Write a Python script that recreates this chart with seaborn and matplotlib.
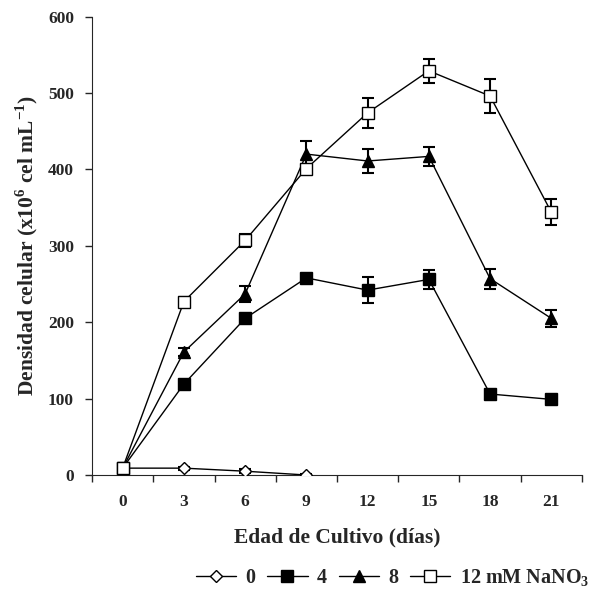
import pandas as pd
import numpy as np
import matplotlib
matplotlib.use("Agg")
import matplotlib.pyplot as plt
import seaborn as sns

# Datos
dias = ["0", "3", "6", "9", "12", "15", "18", "21"]
trat_0 = [9, 9, 5, 0]
trat_4 = [9, 119, 205, 258, 242, 256, 106, 99]
trat_8 = [9, 161, 237, 420, 411, 417, 257, 205]
trat_12 = [9, 227, 307, 401, 474, 529, 496, 344]
err_0 = [2, 2, 3, 1]
err_4 = [3, 4, 5, 5, 17, 12, 4, 4]
err_8 = [3, 5, 10, 17, 16, 12, 13, 11]
err_12 = [3, 6, 8, 6, 20, 16, 22, 17]
etiquetas = ["0", "4", "8", "12 mM NaNO$_\\mathbf{3}$"]

series = [trat_0, trat_4, trat_8, trat_12]
errores = [err_0, err_4, err_8, err_12]

filas = []
for etq, vals, errs in zip(etiquetas, series, errores):
    for i, (v, e) in enumerate(zip(vals, errs)):
        filas.append({"pos": i, "dens": v, "err": e, "trat": etq})
df = pd.DataFrame(filas)

sns.set_style("ticks")
plt.rcParams['font.family'] = ['Liberation Serif', 'DejaVu Serif']
plt.rcParams['mathtext.fontset'] = 'custom'
plt.rcParams['mathtext.rm'] = 'Liberation Serif'
plt.rcParams['mathtext.bf'] = 'Liberation Serif:bold'

fig = plt.figure(figsize=(5.91, 5.92), dpi=100)
ax = fig.add_axes([0.1557, 0.1976, 0.829, 0.7744])

marcadores = {etiquetas[0]: "D", etiquetas[1]: "s", etiquetas[2]: "^", etiquetas[3]: "s"}
relleno = {etiquetas[0]: "white", etiquetas[1]: "black", etiquetas[2]: "black", etiquetas[3]: "white"}
tamanos = {etiquetas[0]: 6.5, etiquetas[1]: 9, etiquetas[2]: 9, etiquetas[3]: 9}

# barras de error primero
for etq in etiquetas:
    d = df[df["trat"] == etq]
    ax.errorbar(d["pos"], d["dens"], yerr=d["err"], fmt="none", ecolor="black",
                elinewidth=1.5, capsize=4, capthick=1.5, zorder=2)

for etq in etiquetas:
    d = df[df["trat"] == etq]
    sns.lineplot(x="pos", y="dens", data=d, ax=ax, color="black", linewidth=1,
                 marker=marcadores[etq], markersize=tamanos[etq],
                 markerfacecolor=relleno[etq], markeredgecolor="black",
                 markeredgewidth=1, label=etq, zorder=3)

ax.set_xlim(-0.5, 7.5)
ax.set_ylim(0, 600)
ax.set_yticks(np.arange(0, 601, 100))
ax.set_xticks(range(len(dias)))
ax.set_xticklabels(dias, fontweight="bold", fontsize=12.5)
ax.set_xticks(np.arange(-0.5, 8, 1), minor=True)
ax.tick_params(axis="x", which="major", length=0, pad=14)
ax.tick_params(axis="x", which="minor", length=5, direction="out", width=1)
ax.tick_params(axis="y", length=5, direction="out", width=1, labelsize=12.5, pad=8)
for t in ax.get_yticklabels():
    t.set_fontweight("bold")
for s in ["top", "right"]:
    ax.spines[s].set_visible(False)

ax.set_xlabel("Edad de Cultivo (días)", fontsize=15.5, fontweight="bold", labelpad=12)
ax.set_ylabel("Densidad celular (x10$^\\mathbf{6}$ cel mL$^\\mathbf{-1}$)", fontsize=15.5,
              fontweight="bold", labelpad=6)

ax.legend(loc="center right", bbox_to_anchor=(1.0, 1 - 578 / 592), bbox_transform=fig.transFigure,
          ncol=4, frameon=False, borderaxespad=0, borderpad=0.1,
          prop={"weight": "bold", "size": 14.5}, handlelength=2.0, columnspacing=0.6,
          handletextpad=0.45)

fig.savefig("out.png", dpi=100)
